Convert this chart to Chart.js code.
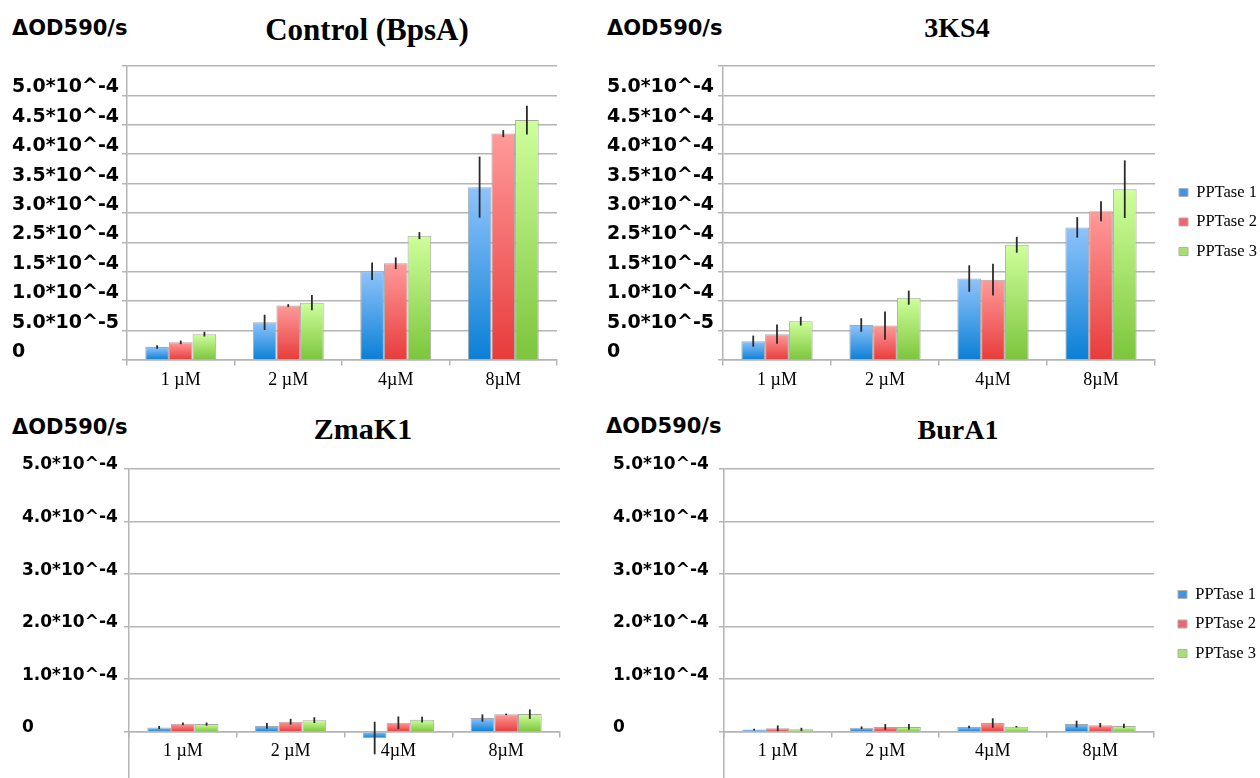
<!DOCTYPE html>
<html lang="en">
<head>
  <meta charset="UTF-8">
  <title>PPTase activity - ΔOD590/s</title>
  <script src="https://cdn.jsdelivr.net/npm/chart.js"></script>
  <style>
    body {
      margin: 0;
      width: 1260px;
      height: 778px;
      overflow: hidden;
      background: #fff;
      position: relative;
    }
    canvas {
      position: absolute;
    }
    .ylab {
      position: absolute;
      font-family: "DejaVu Sans", sans-serif;
      font-weight: bold;
      font-size: 21px;
      line-height: 24px;
      color: #000;
      white-space: nowrap;
    }
    .title {
      position: absolute;
      width: 400px;
      text-align: center;
      font-family: "Liberation Serif", serif;
      font-weight: bold;
      line-height: 40px;
      color: #000;
      white-space: nowrap;
    }
  </style>
</head>
<body>

  <div class="ylab" style="left:12px; top:16px;">ΔOD590/s</div>
  <div class="ylab" style="left:607px; top:16px;">ΔOD590/s</div>
  <div class="ylab" style="left:12px; top:415px;">ΔOD590/s</div>
  <div class="ylab" style="left:606px; top:414px;">ΔOD590/s</div>

  <div class="title" style="left:167px; top:10px; font-size:31px;">Control (BpsA)</div>
  <div class="title" style="left:757px; top:8px; font-size:28px;">3KS4</div>
  <div class="title" style="left:163px; top:409px; font-size:30px;">ZmaK1</div>
  <div class="title" style="left:758px; top:410px; font-size:28px;">BurA1</div>

  <canvas id="bpsa" width="600" height="350" style="left:0; top:40px;"></canvas>
  <canvas id="ks4" width="660" height="350" style="left:600px; top:40px;"></canvas>
  <canvas id="zmak1" width="600" height="339" style="left:0; top:440px;"></canvas>
  <canvas id="bura1" width="660" height="339" style="left:600px; top:440px;"></canvas>

  <script>
    const categories = ['1 µM', '2 µM', '4µM', '8µM'];
    const seriesLabels = ['PPTase 1', 'PPTase 2', 'PPTase 3'];

    // Control (BpsA)
    const bpsaP1 = [0.22, 0.64, 1.51, 2.94];
    const bpsaP2 = [0.30, 0.925, 1.645, 3.85];
    const bpsaP3 = [0.44, 0.975, 2.115, 4.08];
    const bpsaErr1 = [0.03, 0.13, 0.15, 0.52];
    const bpsaErr2 = [0.03, 0.025, 0.10, 0.06];
    const bpsaErr3 = [0.04, 0.13, 0.06, 0.245];

    // 3KS4
    const ks4P1 = [0.32, 0.595, 1.385, 2.255];
    const ks4P2 = [0.44, 0.585, 1.365, 2.53];
    const ks4P3 = [0.66, 1.06, 1.96, 2.905];
    const ks4Err1 = [0.095, 0.115, 0.225, 0.175];
    const ks4Err2 = [0.165, 0.24, 0.27, 0.17];
    const ks4Err3 = [0.075, 0.12, 0.135, 0.49];

    // ZmaK1
    const zmaP1 = [0.08, 0.11, -0.12, 0.26];
    const zmaP2 = [0.15, 0.19, 0.17, 0.33];
    const zmaP3 = [0.145, 0.22, 0.23, 0.335];
    const zmaErr1 = [0.03, 0.055, 0.31, 0.07];
    const zmaErr2 = [0.025, 0.055, 0.12, 0.015];
    const zmaErr3 = [0.03, 0.055, 0.055, 0.09];

    // BurA1
    const burP1 = [0.04, 0.075, 0.09, 0.145];
    const burP2 = [0.065, 0.09, 0.165, 0.125];
    const burP3 = [0.045, 0.09, 0.095, 0.11];
    const burErr1 = [0.015, 0.025, 0.025, 0.065];
    const burErr2 = [0.055, 0.055, 0.09, 0.04];
    const burErr3 = [0.03, 0.055, 0.015, 0.04];

    // Graduations (les étiquettes du haut sont reprises telles quelles, 2.0 manque)
    const topTickValues = [0, 0.5, 1, 1.5, 2, 2.5, 3, 3.5, 4, 4.5, 5];
    const topTickLabels = ['0', '5.0*10^-5', '1.0*10^-4', '1.5*10^-4', '2.5*10^-4',
      '3.0*10^-4', '3.5*10^-4', '4.0*10^-4', '4.5*10^-4', '5.0*10^-4', ''];
    const bottomTickValues = [0, 1, 2, 3, 4, 5];
    const bottomTickLabels = ['0', '1.0*10^-4', '2.0*10^-4', '3.0*10^-4', '4.0*10^-4', '5.0*10^-4'];

    // Dégradés des barres (haut clair -> bas foncé) et couleurs de la légende
    const gradTop = ['#8fc3fb', '#ff9a9a', '#cfff9c'];
    const gradBottom = ['#0a7fd6', '#e83b3b', '#7cc53c'];
    const legendColors = ['#3d95e8', '#f06565', '#a6e070'];
    const gridColor = '#b4b4b4';

    function barFill(i) {
      return (c) => {
        const chart = c.chart;
        const y = chart.scales.y;
        if (!chart.chartArea || !y || typeof c.raw !== 'number') return gradBottom[i];
        const p0 = y.getPixelForValue(0);
        const p1 = y.getPixelForValue(c.raw);
        if (Math.abs(p0 - p1) < 1) return gradBottom[i];
        const g = chart.ctx.createLinearGradient(0, Math.min(p0, p1), 0, Math.max(p0, p1));
        g.addColorStop(0, gradTop[i]);
        g.addColorStop(1, gradBottom[i]);
        return g;
      };
    }

    // Barres d'erreur verticales sans chapeau
    const errorBars = {
      id: 'errorBars',
      afterDatasetsDraw(chart) {
        const ctx = chart.ctx;
        const y = chart.scales.y;
        ctx.save();
        ctx.strokeStyle = '#2a2a2a';
        ctx.lineWidth = 1.8;
        chart.data.datasets.forEach((ds, i) => {
          chart.getDatasetMeta(i).data.forEach((bar, j) => {
            const v = ds.data[j];
            const e = ds.errors[j];
            ctx.beginPath();
            ctx.moveTo(bar.x, y.getPixelForValue(v - e));
            ctx.lineTo(bar.x, y.getPixelForValue(v + e));
            ctx.stroke();
          });
        });
        ctx.restore();
      }
    };

    // axe vide qui sert seulement à réserver de la place
    function spacer(axis, position, size) {
      return {
        type: 'linear',
        axis: axis,
        position: position,
        display: true,
        grid: { display: false },
        border: { display: false },
        ticks: { display: false },
        afterFit: (s) => {
          if (axis === 'x') s.height = size; else s.width = size;
          s.paddingTop = 0;
          s.paddingBottom = 0;
          s.paddingLeft = 0;
          s.paddingRight = 0;
        }
      };
    }

    function makeChart(id, values, errors, cfg) {
      const datasets = values.map((vals, i) => ({
        label: seriesLabels[i],
        data: vals,
        errors: errors[i],
        xAxisID: 'x',
        yAxisID: 'y',
        backgroundColor: barFill(i),
        borderColor: '#a8a8a8',
        borderWidth: 1,
        categoryPercentage: 0.66,
        barPercentage: 1.0
      }));

      const scales = {
        x: {
          position: { y: 0 },
          grid: {
            offset: true,
            drawOnChartArea: false,
            drawTicks: true,
            tickLength: 5,
            color: gridColor,
            lineWidth: 1.5
          },
          border: { display: true, color: gridColor, width: 1.5 },
          ticks: {
            color: '#000',
            padding: 4,
            font: { family: 'Liberation Serif', size: 18 }
          },
          afterFit: (s) => {
            s.paddingLeft = 0;
            s.paddingRight = 0;
          }
        },
        y: {
          min: cfg.top ? 0 : -0.9,
          max: 5,
          afterBuildTicks: (s) => {
            const vals = cfg.top ? topTickValues : bottomTickValues;
            s.ticks = vals.map(v => ({ value: v }));
          },
          grid: {
            color: gridColor,
            lineWidth: 1.5,
            tickLength: 5
          },
          border: { display: true, color: gridColor, width: 1.5 },
          ticks: {
            color: '#000',
            crossAlign: 'far',
            labelOffset: cfg.top ? -8 : -4,
            font: { family: 'DejaVu Sans', weight: 'bold', size: cfg.top ? 19 : 17 },
            callback: (value, index) => {
              if (cfg.top) return topTickLabels[index] ?? '';
              const k = bottomTickValues.indexOf(value);
              return k >= 0 ? bottomTickLabels[k] : '';
            }
          },
          afterFit: (s) => {
            s.width = cfg.yWidth;
            s.paddingTop = 0;
            s.paddingBottom = 0;
          }
        }
      };

      // place sous l'axe des catégories (graphiques du haut)
      if (cfg.top) scales.padx = spacer('x', 'bottom', 18);
      // petit espace entre la zone du graphique et la légende
      if (cfg.legend) scales.gap = spacer('y', 'right', 11);

      return new Chart(document.getElementById(id), {
        type: 'bar',
        data: { labels: categories, datasets: datasets },
        options: {
          responsive: false,
          animation: false,
          layout: { padding: cfg.padding },
          scales: scales,
          plugins: {
            tooltip: { enabled: false },
            legend: {
              display: !!cfg.legend,
              position: 'right',
              align: 'center',
              maxWidth: 94,
              labels: {
                boxWidth: 9,
                boxHeight: 8,
                padding: 13,
                color: '#000',
                font: { family: 'Liberation Serif', size: 16.5 },
                generateLabels: (chart) => chart.data.datasets.map((ds, i) => ({
                  text: ds.label,
                  fillStyle: legendColors[i],
                  strokeStyle: '#b0b0b0',
                  lineWidth: 1,
                  hidden: false,
                  datasetIndex: i
                }))
              }
            }
          }
        },
        plugins: [errorBars]
      });
    }

    makeChart('bpsa', [bpsaP1, bpsaP2, bpsaP3], [bpsaErr1, bpsaErr2, bpsaErr3],
      { top: true, legend: false, yWidth: 115, padding: { left: 12, top: 26, right: 43, bottom: 12 } });
    makeChart('ks4', [ks4P1, ks4P2, ks4P3], [ks4Err1, ks4Err2, ks4Err3],
      { top: true, legend: true, yWidth: 116, padding: { left: 7, top: 26, right: 0, bottom: 12 } });
    makeChart('zmak1', [zmaP1, zmaP2, zmaP3], [zmaErr1, zmaErr2, zmaErr3],
      { top: false, legend: false, yWidth: 107, padding: { left: 22, top: 29, right: 40, bottom: 0 } });
    makeChart('bura1', [burP1, burP2, burP3], [burErr1, burErr2, burErr3],
      { top: false, legend: true, yWidth: 111, padding: { left: 13, top: 29, right: 1, bottom: 0 } });
  </script>

</body>
</html>
